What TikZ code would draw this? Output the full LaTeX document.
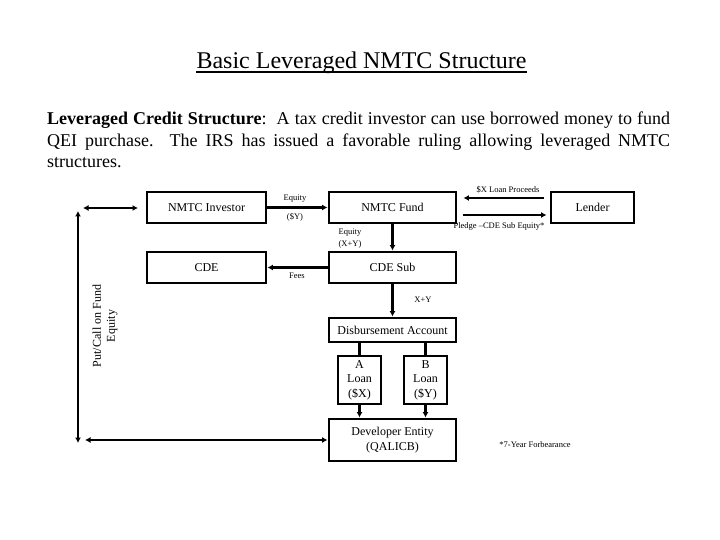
\documentclass[tikz,border=0pt]{standalone}
\usepackage{fontspec}
\setmainfont{Liberation Serif}
\usetikzlibrary{arrows.meta,calc}
\begin{document}
\begin{tikzpicture}[x=1pt,y=-1pt,
  box/.style={draw,line width=2.9pt,inner sep=0pt,align=center,font=\fontsize{12}{14.5}\selectfont},
  conn/.style={line width=2.3pt},
  arr/.style={conn,-{Latex[length=5.5pt,width=6pt]}},
  darr/.style={conn,{Latex[length=5.5pt,width=6pt]}-{Latex[length=5.5pt,width=6pt]}},
  lbl/.style={inner sep=0pt,font=\fontsize{8.5}{10}\selectfont},
  txt/.style={inner sep=0pt}]
\useasboundingbox (0,0) rectangle (720,540);
\fill[white] (0,0) rectangle (720,540);
% title
\node[txt,anchor=base,font=\fontsize{24}{28}\selectfont] (title) at (361.5,69) {Basic Leveraged NMTC Structure};
\draw[line width=1.3pt] ([yshift=-3pt]title.base west) -- ([yshift=-3pt]title.base east);
% paragraph
\node[txt,anchor=north west,text width=623pt,align=justify,font=\fontsize{18}{21.7}\selectfont] (para) at (47,111.7)
{\textbf{Leveraged Credit Structure}:\ \ A tax credit investor can use borrowed money to fund\linebreak QEI purchase.\ \ The IRS has issued a favorable ruling allowing leveraged NMTC\linebreak structures.};
% boxes
\node[box,minimum width=119pt,minimum height=31pt] (inv) at (206.5,207.5) {NMTC Investor};
\node[box,minimum width=127pt,minimum height=31pt] (fund) at (392.5,207.5) {NMTC Fund};
\node[box,minimum width=83pt,minimum height=31pt] (lender) at (592.5,207.5) {Lender};
\node[box,minimum width=119pt,minimum height=31pt] (cde) at (206.5,267.5) {CDE};
\node[box,minimum width=127pt,minimum height=31pt] (cdesub) at (392.5,267.5) {CDE Sub};
\node[box,minimum width=127pt,minimum height=24pt] (disb) at (392.5,330) {Disbursement Account};
\node[box,minimum width=43pt,minimum height=48pt] (aloan) at (359.5,380) {A\\Loan\\(\$X)};
\node[box,minimum width=43pt,minimum height=48pt] (bloan) at (425.5,380) {B\\Loan\\(\$Y)};
\node[box,minimum width=127pt,minimum height=42pt] (dev) at (392.5,440) {Developer Entity\\(QALICB)};
% connectors
\draw[arr] (inv.east) -- (fund.west);
\draw[arr] ([xshift=-6pt,yshift=9.5pt]lender.west) -- ([xshift=6pt,yshift=9.5pt]fund.east);
\draw[arr] ([xshift=6pt,yshift=-7.5pt]fund.east) -- ([xshift=-3pt,yshift=-7.5pt]lender.west);
\draw[arr] (fund.south) -- (cdesub.north);
\draw[arr] (cdesub.west) -- (cde.east);
\draw[arr] (cdesub.south) -- (disb.north);
\draw[conn] (disb.south -| aloan) -- (aloan.north);
\draw[conn] (disb.south -| bloan) -- (bloan.north);
\draw[arr] (aloan.south) -- (dev.north -| aloan);
\draw[arr] (bloan.south) -- (dev.north -| bloan);
\coordinate (tl) at (83,208);
\coordinate (tr) at (138,208);
\coordinate (vt) at (78,211);
\coordinate (vb) at (78,443);
\coordinate (bl) at (85,440);
\draw[darr] (tl) -- (tr);
\draw[darr] (vt) -- (vb);
\draw[darr] (bl) -- (dev.west);
% labels
\node[lbl] (l1) at (295,199) {Equity};
\node[lbl] (l2) at (295,217) {(\$Y)};
\node[lbl] (l3) at (508,190) {\$X Loan Proceeds};
\node[lbl] (l4) at (499,226.5) {Pledge –CDE Sub Equity*};
\node[lbl] (l5) at (350,233) {Equity};
\node[lbl] (l6) at (350,244) {(X+Y)};
\node[lbl] (l7) at (297,276) {Fees};
\node[lbl] (l8) at (423,300) {X+Y};
\node[lbl] (l9) at (535,445) {*7-Year Forbearance};
\node[txt,rotate=90,align=center,font=\fontsize{12}{14}\selectfont] (put) at (105,326) {Put/Call on Fund\\Equity};
\end{tikzpicture}
\end{document}
